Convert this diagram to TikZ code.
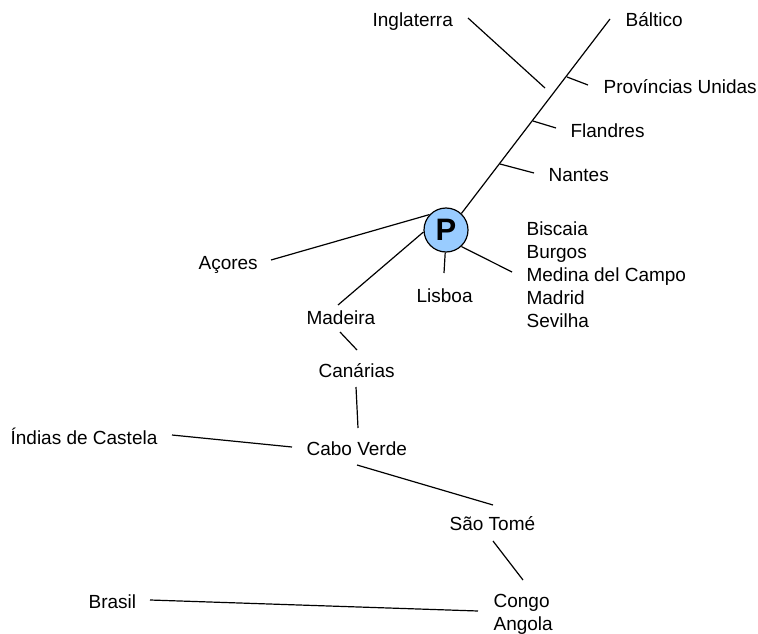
\documentclass[tikz,border=0pt]{standalone}
\usepackage{fontspec}
\setmainfont{Liberation Sans}
\begin{document}
\begin{tikzpicture}[x=1pt,y=-1pt,line width=1.2pt,
  lbl/.style={inner sep=0pt,anchor=base west,font=\fontsize{19}{23}\selectfont},
  lst/.style={inner sep=0pt,anchor=north west,align=left,font=\fontsize{19}{23}\selectfont},
  hub/.style={circle,draw,fill=hubblue,minimum size=44pt,inner sep=0pt,line width=1.2pt,font=\fontsize{31}{31}\selectfont\bfseries}]
\definecolor{hubblue}{HTML}{99CCFF}
\useasboundingbox (0,0) rectangle (758,634);
% hub
\node[hub] (P) at (446,230) {P};
% labels
\node[lbl] (ingl) at (372,27) {Inglaterra};
\node[lbl] (balt) at (625,27) {Báltico};
\node[lbl] (prov) at (603,93) {Províncias Unidas};
\node[lbl] (fland) at (570,137) {Flandres};
\node[lbl] (nant) at (548,181) {Nantes};
\node[lbl] (acor) at (198,269) {Açores};
\node[lbl] (lisb) at (416,302) {Lisboa};
\node[lst] (cast) at (526,221) {Biscaia\\Burgos\\Medina del Campo\\Madrid\\Sevilha};
\node[lbl] (made) at (306,324) {Madeira};
\node[lbl] (cana) at (318,377) {Canárias};
\node[lbl] (indi) at (10,444) {Índias de Castela};
\node[lbl] (cabo) at (306,455) {Cabo Verde};
\node[lbl] (sato) at (449,530) {São Tomé};
\node[lbl] (bras) at (88,608) {Brasil};
\node[lst] (cong) at (493,594) {Congo\\Angola};
% connector end points
\coordinate (bE) at (610,19);
\coordinate (iA) at (468,18);
\coordinate (iB) at (545,88);
\coordinate (pA) at (567,77);
\coordinate (pB) at (588,85);
\coordinate (fA) at (533,121);
\coordinate (fB) at (556,128);
\coordinate (nA) at (500,164);
\coordinate (nB) at (534,173);
\coordinate (aE) at (271,260);
\coordinate (mE) at (338,305);
\coordinate (lE) at (444,273);
\coordinate (cE) at (512,272);
\coordinate (mcA) at (340,332);
\coordinate (mcB) at (357,350);
\coordinate (ccA) at (356,387);
\coordinate (ccB) at (358,428);
\coordinate (icA) at (172,435);
\coordinate (icB) at (292,447);
\coordinate (csA) at (357,465);
\coordinate (csB) at (493,505);
\coordinate (skA) at (493,541);
\coordinate (skB) at (523,580);
\coordinate (bkA) at (150,600);
\coordinate (bkB) at (478,611);
% connectors
\draw (P.47) -- (bE);
\draw (iA) -- (iB);
\draw (pA) -- (pB);
\draw (fA) -- (fB);
\draw (nA) -- (nB);
\draw (P.137) -- (aE);
\draw (P.185) -- (mE);
\draw (P.268) -- (lE);
\draw (P.313) -- (cE);
\draw (mcA) -- (mcB);
\draw (ccA) -- (ccB);
\draw (icA) -- (icB);
\draw (csA) -- (csB);
\draw (skA) -- (skB);
\draw (bkA) -- (bkB);
\end{tikzpicture}
\end{document}
